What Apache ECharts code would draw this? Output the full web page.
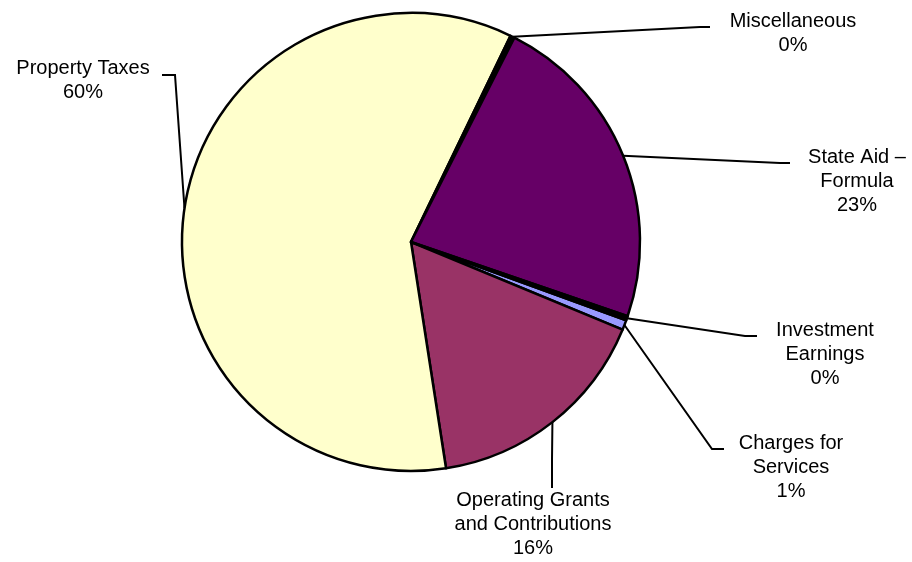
<!DOCTYPE html>
<html>
<head>
<meta charset="utf-8">
<script src="https://cdn.jsdelivr.net/npm/echarts@6/dist/echarts.min.js"></script>
<style>
  html, body { margin: 0; padding: 0; background: #fff; }
  #chart { width: 912px; height: 562px; }
</style>
</head>
<body>
<div id="chart"></div>
<script>
// slices, clockwise starting with Charges for Services
const categories = ['Charges for Services', 'Operating Grants and Contributions', 'Property Taxes', 'Miscellaneous', 'State Aid – Formula', 'Investment Earnings'];
const labelNames = ['Charges for\nServices', 'Operating Grants\nand Contributions', 'Property Taxes', 'Miscellaneous', 'State Aid –\nFormula', 'Investment\nEarnings'];
const shares = [0.7, 16.3, 59.6, 0.3, 22.8, 0.3];
const sliceColors = ['#9999FF', '#993366', '#FFFFCC', '#000000', '#660066', '#000000'];

// where each label sits (top-center) and how its leader line bends
const labelSpots = [
    { x: 791, y: 431, elbow: [712, 449], end: [724, 449] },
    { x: 533, y: 488, elbow: [552, 460], end: [552, 488] },
    { x: 83,  y: 56,  elbow: [175, 75],  end: [162, 75] },
    { x: 793, y: 9,   elbow: [700, 27],  end: [710, 27] },
    { x: 857, y: 145, elbow: [780, 163], end: [790, 163] },
    { x: 825, y: 318, elbow: [745, 336], end: [757, 336] }
];

const chartDom = document.getElementById('chart');
const myPieChart = echarts.init(chartDom);

const pieData = categories.map(function(name, i) {
    return {
        name: name,
        value: shares[i],
        itemStyle: { color: sliceColors[i] }
    };
});

const option = {
    backgroundColor: '#fff',
    animation: false,
    series: [
        {
            type: 'pie',
            center: [411, 242],
            radius: 229,
            startAngle: -20,
            clockwise: true,
            avoidLabelOverlap: false,
            data: pieData,
            itemStyle: {
                borderColor: '#000',
                borderWidth: 2.5
            },
            label: {
                show: true,
                position: 'outside',
                color: '#000',
                fontFamily: '"Liberation Sans", Arial, sans-serif',
                fontSize: 20,
                lineHeight: 24,
                align: 'center',
                formatter: function(p) {
                    return labelNames[p.dataIndex] + '\n' + Math.round(p.percent) + '%';
                }
            },
            labelLine: {
                show: true,
                smooth: false,
                lineStyle: { color: '#000', width: 2 }
            },
            labelLayout: function(params) {
                var spot = labelSpots[params.dataIndex];
                var start = params.labelLinePoints ? params.labelLinePoints[0] : spot.elbow;
                return {
                    x: spot.x,
                    y: spot.y,
                    align: 'center',
                    verticalAlign: 'top',
                    labelLinePoints: [start, spot.elbow, spot.end]
                };
            },
            emphasis: { disabled: true }
        }
    ]
};
myPieChart.setOption(option);
</script>
</body>
</html>
